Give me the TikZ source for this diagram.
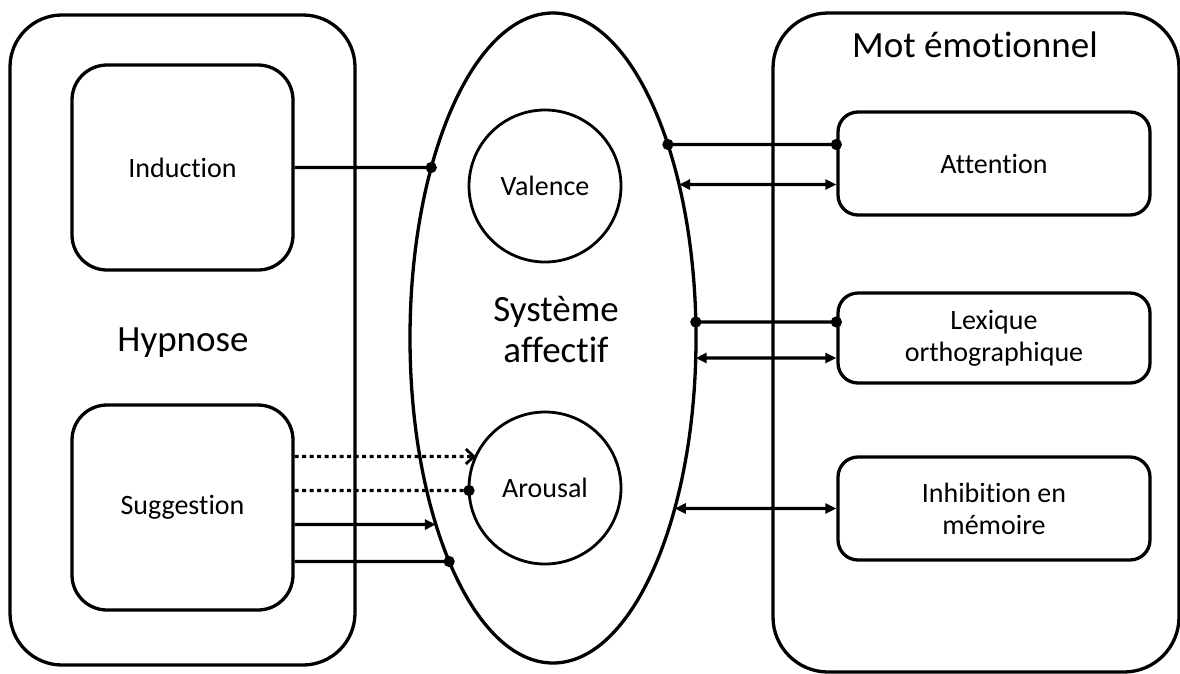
\documentclass[tikz,border=0pt]{standalone}
\usepackage{fontspec}
\setmainfont{Carlito}[Ligatures=NoCommon]
\usetikzlibrary{arrows.meta,intersections,shapes.geometric}
\newcommand\bigtxt{\fontsize{37}{42}\selectfont}
\newcommand\smalltxt{\fontsize{28}{32}\selectfont}
\begin{document}
\begin{tikzpicture}[x=1pt,y=-1pt,line width=3.3pt,
  bigbox/.style={draw,rounded corners=52pt,inner sep=0pt},
  subbox/.style={draw,rounded corners=35pt,inner sep=0pt,minimum width=221pt,minimum height=205pt,font=\smalltxt},
  rbox/.style={draw,rounded corners=20pt,inner sep=0pt,minimum width=312pt,align=center,font=\smalltxt},
  circ/.style={draw,circle,line width=2.8pt,minimum size=152pt,inner sep=0pt,font=\smalltxt},
  lbl/.style={inner sep=0pt,align=center},
  conn/.style={line width=3.3pt},
  dotdot/.style={conn,{Circle[length=11pt]}-{Circle[length=11pt]},shorten >=-5.5pt,shorten <=-5.5pt},
  dotone/.style={conn,-{Circle[length=11pt]},shorten >=-5.5pt},
  dbl/.style={conn,{Triangle[length=11pt,width=10pt]}-{Triangle[length=11pt,width=10pt]}},
  sgl/.style={conn,-{Triangle[length=11pt,width=10pt]}},
  dotted line/.style={conn,dash pattern=on 4pt off 3.5pt},
]
\useasboundingbox (0,0) rectangle (1180,673);

% large containers
\node[bigbox,minimum width=345pt,minimum height=650pt] (hyp) at (182.5,340) {};
\node[draw,ellipse,inner sep=0pt,minimum width=286pt,minimum height=650pt] (ell) at (553,338) {};
\node[bigbox,rounded corners=55pt,minimum width=406pt,minimum height=659pt] (mot) at (976,342.5) {};

% texts of containers
\node[lbl,font=\bigtxt] (hyplbl) at (183,343) {Hypnose};
\node[lbl,font=\bigtxt,text height=25pt] (ellbl) at (556,312) {Système};
\node[lbl,font=\bigtxt] (ellbl2) at (556,350) {affectif};
\node[lbl,font=\bigtxt] (motlbl) at (975,45) {Mot émotionnel};

% inner boxes
\node[subbox] (ind) at (182.5,167.5) {Induction};
\node[subbox] (sug) at (182.5,507.5) {Suggestion};
\node[circ] (val) at (545,186) {Valence};
\node[circ] (aro) at (545,488) {Arousal};
\node[rbox,minimum height=103pt] (att) at (994,163.5) {Attention};
\node[rbox,minimum height=90pt] (lex) at (994,338) {Lexique\\orthographique};
\node[rbox,minimum height=103pt] (inh) at (994,508.5) {Inhibition en\\mémoire};

% helper paths
\path[name path=ellp] (ell.center) ellipse [x radius=143pt, y radius=325pt];
\path[name path=aroc] (aro.center) circle [radius=76pt];

% left side intersections
\path[name path=h1] (ind.east) -- ++(200,0);
\path[name intersections={of=ellp and h1, by=e1}];
\path[name path=h2] ([yshift=51pt]sug.east) -- ++(200,0);
\path[name intersections={of=aroc and h2, by=a1}];
\path[name path=h3] ([yshift=17pt]sug.east) -- ++(200,0);
\path[name intersections={of=aroc and h3, by=a2}];
\path[name path=h4] ([yshift=-17pt]sug.east) -- ++(250,0);
\path[name intersections={of=ellp and h4, by=e4}];
\path[name path=h5] ([yshift=-54pt]sug.east) -- ++(250,0);
\path[name intersections={of=ellp and h5, by=e5}];

% right side intersections
\path[name path=r1] ([yshift=19pt]att.west) -- ++(-250,0);
\path[name intersections={of=ellp and r1, by=f1}];
\path[name path=r2] ([yshift=-21pt]att.west) -- ++(-250,0);
\path[name intersections={of=ellp and r2, by=f2}];
\path[name path=r3] ([yshift=16pt]lex.west) -- ++(-250,0);
\path[name intersections={of=ellp and r3, by=f3}];
\path[name path=r4] ([yshift=-20pt]lex.west) -- ++(-250,0);
\path[name intersections={of=ellp and r4, by=f4}];
\path[name path=r5] (inh.west) -- ++(-250,0);
\path[name intersections={of=ellp and r5, by=f5}];

% connectors
\draw[dotone] (ind.east) -- (e1);
\draw[dotted line,-{Straight Barb[length=8pt,width=15pt,line width=2.8pt]}] ([yshift=51pt]sug.east) -- (a1);
\draw[dotted line,-{Circle[length=11pt]},shorten >=-5.5pt] ([yshift=17pt]sug.east) -- (a2);
\draw[sgl] ([yshift=-17pt]sug.east) -- (e4);
\draw[dotone] ([yshift=-54pt]sug.east) -- (e5);

\draw[dotdot] (f1) -- ([yshift=19pt]att.west);
\draw[dbl] (f2) -- ([yshift=-21pt]att.west);
\draw[dotdot] (f3) -- ([yshift=16pt]lex.west);
\draw[dbl] (f4) -- ([yshift=-20pt]lex.west);
\draw[dbl] (f5) -- (inh.west);
\end{tikzpicture}
\end{document}
